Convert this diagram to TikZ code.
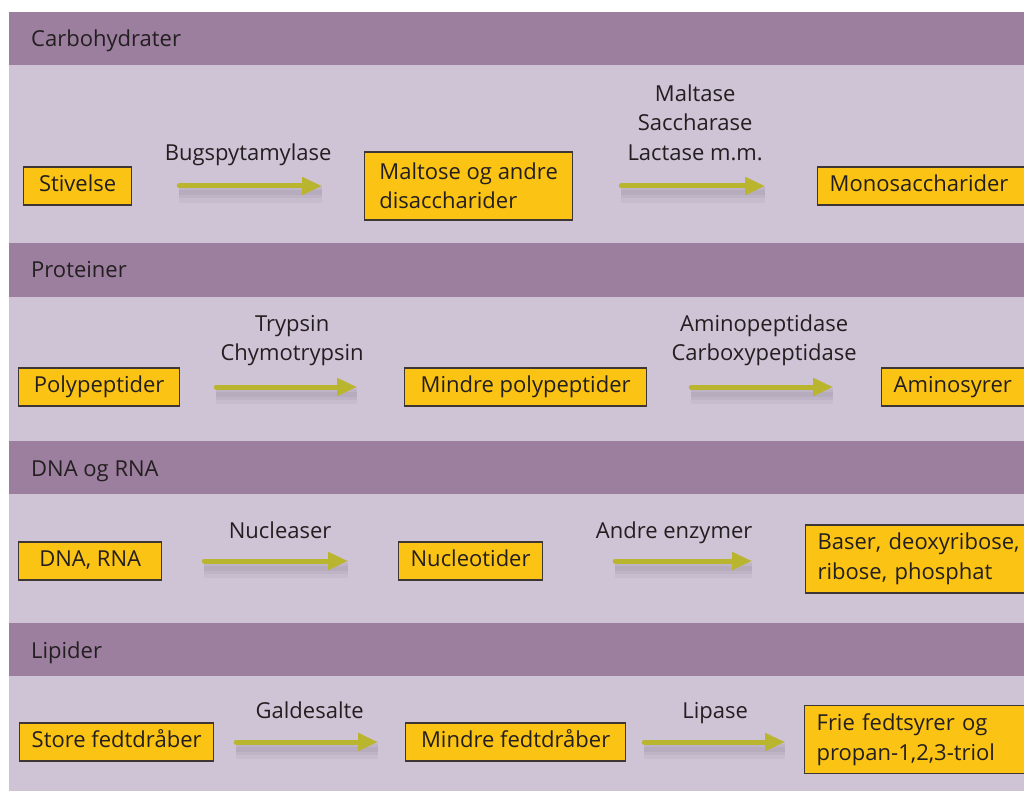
\documentclass[tikz,border=0pt]{standalone}
\usepackage{fontspec}
\setmainfont{Open Sans}
\usetikzlibrary{arrows.meta}

\definecolor{headpurple}{HTML}{9C7E9E}
\definecolor{bandlilac}{HTML}{CFC3D6}
\definecolor{boxyellow}{HTML}{FBC313}
\definecolor{boxline}{HTML}{3D3634}
\definecolor{arrowolive}{HTML}{BAB52F}
\definecolor{inktext}{HTML}{231F20}

\tikzset{
  box/.style={draw=boxline, line width=1.3pt, fill=boxyellow, anchor=west, align=left,
    inner xsep=12pt, inner ysep=0pt},
  single/.style={box, minimum height=38pt, text height=16pt, text depth=5pt},
  double/.style={box, minimum height=68pt},
  cutbox/.style={text width=240pt},
  flow/.style={draw=arrowolive, line width=5pt, line cap=round, -{Triangle[length=20pt,width=17pt]},
    preaction={draw=black, draw opacity=.035, line width=18pt, -, transform canvas={yshift=-8pt}},
    preaction={draw=black, draw opacity=.04, line width=11pt, -, transform canvas={yshift=-7pt}},
    preaction={draw=black, draw opacity=.04, line width=5pt, -, transform canvas={yshift=-7pt}}},
  lbl/.style={inner sep=0pt, align=center, text depth=6pt},
  head/.style={anchor=base west, inner sep=0pt}
}

\begin{document}
\begin{tikzpicture}[x=1pt, y=-1pt, font=\fontsize{22}{29.5}\selectfont, text=inktext]

\useasboundingbox (0,0) rectangle (1024,791);
\clip (0,0) rectangle (1024,791);

% bands
\fill[headpurple] (9,12) rectangle (1030,65);
\fill[bandlilac] (9,65) rectangle (1030,243);
\fill[headpurple] (9,243) rectangle (1030,297);
\fill[bandlilac] (9,297) rectangle (1030,441);
\fill[headpurple] (9,441) rectangle (1030,494);
\fill[bandlilac] (9,494) rectangle (1030,623);
\fill[headpurple] (9,623) rectangle (1030,676);
\fill[bandlilac] (9,676) rectangle (1030,791);

% carbohydrater
\node[head] (carbhead) at (31,46.5) {Carbohydrater};
\node[single, minimum width=108pt] (stivelse) at (23,186) {Stivelse};
\node[double, minimum width=208pt] (maltose) at (364,186) {Maltose og andre\\disaccharider};
\node[single, cutbox] (mono) at (817,186) {Monosaccharider};
\draw[flow, shorten <=47pt, shorten >=42pt] (stivelse.east) -- node[lbl, above=17pt] {Bugspytamylase} (maltose.west);
\draw[flow, shorten <=48pt, shorten >=52pt] (maltose.east) -- node[lbl, above=17pt] {Maltase\\Saccharase\\Lactase m.m.} (mono.west);

% proteiner
\node[head] (prothead) at (31,278) {Proteiner};
\node[single, minimum width=161pt] (poly) at (18,387) {Polypeptider};
\node[single, minimum width=242pt] (mindrepoly) at (404,387) {Mindre polypeptider};
\node[single, cutbox] (amino) at (881,387) {Aminosyrer};
\draw[flow, shorten <=36pt, shorten >=47pt] (poly.east) -- node[lbl, above=18pt] {Trypsin\\Chymotrypsin} (mindrepoly.west);
\draw[flow, shorten <=44pt, shorten >=48pt] (mindrepoly.east) -- node[lbl, above=18pt] {Aminopeptidase\\Carboxypeptidase} (amino.west);

% DNA og RNA
\node[head] (dnahead) at (31,476) {DNA og RNA};
\node[single, minimum width=143pt] (dna) at (18,561) {DNA, RNA};
\node[single, minimum width=138pt] (nucleo) at (398,561) {Nucleotider};
\node[double, cutbox] (baser) at (805,559) {Baser, deoxyribose,\\ribose, phosphat};
\draw[flow, shorten <=42pt, shorten >=50pt] (dna.east) -- node[lbl, above=14pt] {Nucleaser} (nucleo.west);
\draw[flow, shorten <=72pt, shorten >=53pt] (nucleo.east) -- node[lbl, above=14pt] {Andre enzymer} (baser.west |- nucleo.east);

% lipider
\node[head] (liphead) at (31,658) {Lipider};
\node[single, minimum width=194pt] (store) at (19,742) {Store fedtdråber};
\node[single, minimum width=220pt] (mindrefedt) at (405,742) {Mindre fedtdråber};
\node[double, cutbox] (frie) at (804,739.5) {Frie fedtsyrer og\\propan-1,2,3-triol};
\draw[flow, shorten <=22pt, shorten >=27pt] (store.east) -- node[lbl, above=15pt] {Galdesalte} (mindrefedt.west);
\draw[flow, shorten <=18pt, shorten >=19pt] (mindrefedt.east) -- node[lbl, above=15pt] {Lipase} (frie.west |- mindrefedt.east);

\end{tikzpicture}
\end{document}
